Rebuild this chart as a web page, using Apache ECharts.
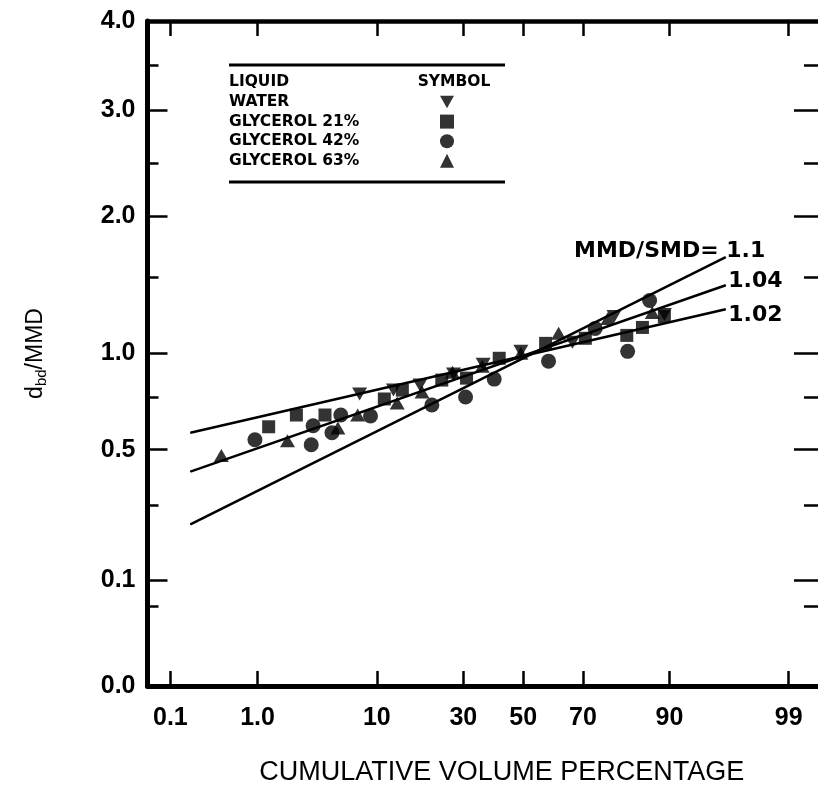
<!DOCTYPE html>
<html><head><meta charset="utf-8">
<script src="https://cdn.jsdelivr.net/npm/echarts@6/dist/echarts.min.js"></script>
<style>html,body{margin:0;padding:0;background:#fff}#c{width:818px;height:791px}</style>
</head><body><div id="c"></div>
<script>
// ---------------- data ----------------
const xTickPercents = [0.1, 1, 10, 30, 50, 70, 90, 99];
const xTickLabels = ['0.1', '1.0', '10', '30', '50', '70', '90', '99'];
const yTickValues = [0, 0.1, 0.5, 1, 2, 3, 4];
const yTickLabels = ['0.0', '0.1', '0.5', '1.0', '2.0', '3.0', '4.0'];
const yMinorTickValues = [0.075, 0.33, 0.77, 1.55, 2.5, 3.5];

const seriesNames = ['WATER', 'GLYCEROL 21%', 'GLYCEROL 42%', 'GLYCEROL 63%'];

const waterPct   = [7.6, 12.8, 18.3, 27.1, 36.3, 49.2, 66.7, 78.7, 89.2];
const waterRatio = [0.789, 0.809, 0.835, 0.892, 0.943, 1.014, 1.08, 1.268, 1.283];

const gly21Pct   = [1.29, 2.35, 4.13, 11.2, 14.5, 23.8, 31.0, 41.7, 57.8, 70.7, 81.8, 85.2, 89.2];
const gly21Ratio = [0.619, 0.680, 0.680, 0.763, 0.809, 0.861, 0.871, 0.974, 1.072, 1.109, 1.130, 1.188, 1.268];

const gly42Pct   = [0.94, 3.17, 3.29, 4.70, 5.51, 9.06, 21.2, 30.7, 40.0, 58.8, 73.6, 82.0, 86.6];
const gly42Ratio = [0.552, 0.526, 0.624, 0.588, 0.680, 0.675, 0.732, 0.773, 0.866, 0.959, 1.181, 1.014, 1.384];

const gly63Pct   = [0.41, 1.95, 5.23, 7.36, 13.5, 18.8, 26.8, 36.0, 49.2, 62.2, 77.1, 87.1];
const gly63Ratio = [0.482, 0.546, 0.613, 0.680, 0.742, 0.799, 0.902, 0.933, 1.0, 1.145, 1.254, 1.297];

const fitNames = ['1.1', '1.04', '1.02'];
const fitPct = [0.178, 96.2];
const fit11Ratio  = [0.271, 1.70];
const fit104Ratio = [0.433, 1.495];
const fit102Ratio = [0.588, 1.321];

// ---------------- scales ----------------
const xRangePct = [0.05, 99.51];
// axis units assigned to yTickValues (irregular ordinate of the original figure)
const yScaleKnots = [0, 106.5, 237.5, 334.5, 472.5, 579, 668.5];

function probit(p) {
  const a = [-3.969683028665376e+01, 2.209460984245205e+02, -2.759285104469687e+02, 1.383577518672690e+02, -3.066479806614716e+01, 2.506628277459239e+00];
  const b = [-5.447609879822406e+01, 1.615858368580409e+02, -1.556989798598866e+02, 6.680131188771972e+01, -1.328068155288572e+01];
  const c = [-7.784894002430293e-03, -3.223964580411365e-01, -2.400758277161838e+00, -2.549732539343734e+00, 4.374664141464968e+00, 2.938163982698783e+00];
  const d = [7.784695709041462e-03, 3.224671290700398e-01, 2.445134137142996e+00, 3.754408661907416e+00];
  const pl = 0.02425, ph = 1 - pl;
  let q, r;
  if (p < pl) {
    q = Math.sqrt(-2 * Math.log(p));
    return (((((c[0]*q+c[1])*q+c[2])*q+c[3])*q+c[4])*q+c[5]) / ((((d[0]*q+d[1])*q+d[2])*q+d[3])*q+1);
  }
  if (p <= ph) {
    q = p - 0.5; r = q * q;
    return (((((a[0]*r+a[1])*r+a[2])*r+a[3])*r+a[4])*r+a[5])*q / (((((b[0]*r+b[1])*r+b[2])*r+b[3])*r+b[4])*r+1);
  }
  q = Math.sqrt(-2 * Math.log(1 - p));
  return -(((((c[0]*q+c[1])*q+c[2])*q+c[3])*q+c[4])*q+c[5]) / ((((d[0]*q+d[1])*q+d[2])*q+d[3])*q+1);
}
const fx = pct => probit(pct / 100);
function fy(v) {
  for (let i = 0; i < yTickValues.length - 1; i++) {
    if (v <= yTickValues[i + 1] || i === yTickValues.length - 2) {
      const t = (v - yTickValues[i]) / (yTickValues[i + 1] - yTickValues[i]);
      return yScaleKnots[i] + t * (yScaleKnots[i + 1] - yScaleKnots[i]);
    }
  }
}
const zip = (xs, ys) => xs.map((x, i) => [fx(x), fy(ys[i])]);

const xTickVals = xTickPercents.map(fx);
const yTickVals = yTickValues.map(fy);
const yMinorVals = yMinorTickValues.map(fy);
const nearestLabel = (vals, labels) => v => {
  let bi = 0, bd = Infinity;
  vals.forEach((t, i) => { const dd = Math.abs(t - v); if (dd < bd) { bd = dd; bi = i; } });
  return bd < 1e-3 ? labels[bi] : '';
};

// ---------------- chart ----------------
const FONT = 'Liberation Sans';
const tickFont = { fontFamily: FONT, fontWeight: 'bold', fontSize: 25, color: '#000' };
const xMin = fx(xRangePct[0]), xMax = fx(xRangePct[1]);
const yMax = yScaleKnots[yScaleKnots.length - 1];

function xAxisDef(pos, lw, showLabel) {
  return {
    type: 'value', position: pos, min: xMin, max: xMax,
    axisLine: { show: true, onZero: false, lineStyle: { color: '#000', width: lw } },
    axisTick: { show: true, inside: true, length: 15, customValues: xTickVals, lineStyle: { color: '#000', width: 2.5 } },
    axisLabel: showLabel ? Object.assign({ show: true, customValues: xTickVals, margin: 20,
      formatter: nearestLabel(xTickVals, xTickLabels) }, tickFont) : { show: false },
    splitLine: { show: false }
  };
}
function yAxisDef(pos, opts) {
  return Object.assign({
    type: 'value', position: pos, min: 0, max: yMax, offset: 0,
    axisLine: { show: false, onZero: false },
    axisTick: { show: false },
    axisLabel: { show: false },
    splitLine: { show: false }
  }, opts);
}
const tickLine = { color: '#000', width: 2.5 };
const majorTick = len => ({ show: true, inside: true, length: len, customValues: yTickVals.slice(1, -1), lineStyle: tickLine });
const minorTick = len => ({ show: true, inside: true, length: len, customValues: yMinorVals, lineStyle: tickLine });

function scatter(name, xs, ys, symbol, size) {
  return { type: 'scatter', name, data: zip(xs, ys), symbol, symbolSize: size,
    itemStyle: { color: '#000' }, z: 5 };
}
function fitLine(name, ys, label) {
  return {
    type: 'line', name, symbol: 'circle', symbolSize: 1, showSymbol: true, silent: true,
    lineStyle: { color: '#000', width: 2.5 }, itemStyle: { color: '#000' }, z: 3,
    data: [ zip([fitPct[0]], [ys[0]])[0],
      { value: zip([fitPct[1]], [ys[1]])[0],
        label: Object.assign({ show: true, position: 'right', fontFamily: 'DejaVu Sans', fontWeight: 'bold', fontSize: 22, color: '#000' }, label) } ]
  };
}

const chart = echarts.init(document.getElementById('c'), null, { renderer: 'canvas' });
chart.setOption({
  animation: false,
  backgroundColor: '#fff',
  grid: { left: 147.5, top: 21, width: 678, height: 668.5, containLabel: false },
  xAxis: [
    Object.assign(xAxisDef('bottom', 5, true), {
      name: 'CUMULATIVE VOLUME PERCENTAGE', nameLocation: 'middle', nameGap: 73,
      nameTextStyle: { fontFamily: FONT, fontSize: 27, color: '#000', padding: [0, 0, 0, 38] }
    }),
    xAxisDef('top', 4.5, false)
  ],
  yAxis: [
    yAxisDef('left', {
      axisLine: { show: true, onZero: false, lineStyle: { color: '#000', width: 5 } },
      axisTick: majorTick(20),
      axisLabel: Object.assign({ show: true, customValues: yTickVals, margin: 12, showMinLabel: true, showMaxLabel: true,
        formatter: nearestLabel(yTickVals, yTickLabels) }, tickFont),
      name: 'd{s|bd}/MMD', nameLocation: 'middle', nameRotate: 90, nameGap: 98,
      nameTextStyle: { fontFamily: FONT, fontSize: 23, color: '#000', lineHeight: 28,
        rich: { s: { fontFamily: FONT, fontSize: 15, color: '#000', verticalAlign: 'bottom', lineHeight: 28 } } }
    }),
    yAxisDef('left', { axisTick: minorTick(11) }),
    yAxisDef('right', { axisTick: majorTick(24) }),
    yAxisDef('right', { axisTick: minorTick(14) })
  ],
  legend: {
    data: seriesNames, orient: 'vertical', align: 'right', left: 229, top: 94, padding: 0,
    itemWidth: 14, itemHeight: 14, itemGap: 3.6, selectedMode: false,
    formatter: n => '{n|' + n + '}',
    textStyle: { rich: { n: { width: 206, align: 'left', fontFamily: 'DejaVu Sans', fontWeight: 'bold', fontSize: 15.5, lineHeight: 18, color: '#000' } } }
  },
  graphic: [
    { type: 'line', shape: { x1: 229, y1: 65, x2: 505, y2: 65 }, style: { stroke: '#000', lineWidth: 3 } },
    { type: 'line', shape: { x1: 229, y1: 182, x2: 505, y2: 182 }, style: { stroke: '#000', lineWidth: 3 } },
    { type: 'text', x: 229, y: 82, style: { text: 'LIQUID', font: 'bold 15.5px "DejaVu Sans"', fill: '#000', verticalAlign: 'middle', align: 'left' } },
    { type: 'text', x: 454, y: 82, style: { text: 'SYMBOL', font: 'bold 15.5px "DejaVu Sans"', fill: '#000', verticalAlign: 'middle', align: 'center' } }
  ],
  series: [
    fitLine(fitNames[0], fit11Ratio, { formatter: 'MMD/SMD= ' + fitNames[0], align: 'right', distance: 0, offset: [39, -6] }),
    fitLine(fitNames[1], fit104Ratio, { formatter: fitNames[1], distance: 2, offset: [0, -4] }),
    fitLine(fitNames[2], fit102Ratio, { formatter: fitNames[2], distance: 2, offset: [0, 6] }),
    scatter(seriesNames[0], waterPct, waterRatio, 'path://M0,0L10,0L5,9Z', [15, 13]),
    scatter(seriesNames[1], gly21Pct, gly21Ratio, 'rect', 13),
    scatter(seriesNames[2], gly42Pct, gly42Ratio, 'circle', 15),
    scatter(seriesNames[3], gly63Pct, gly63Ratio, 'triangle', [15, 13])
  ]
});
</script></body></html>
